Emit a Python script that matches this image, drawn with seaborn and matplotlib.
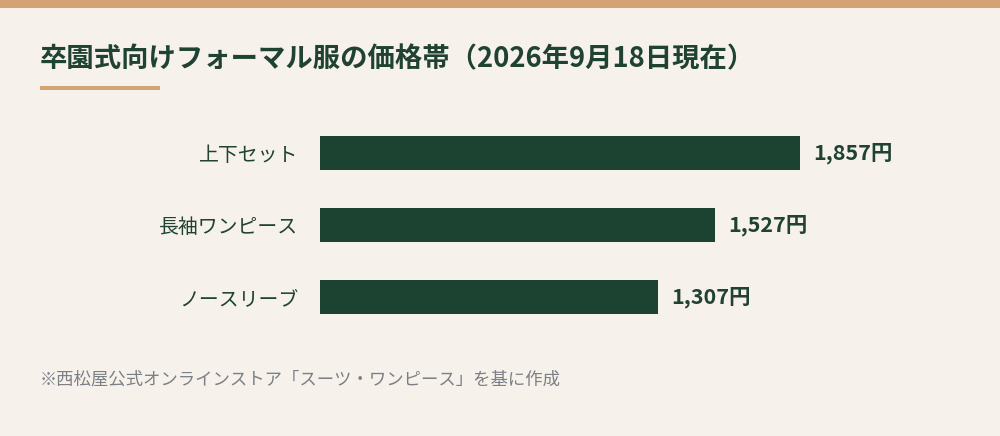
import matplotlib
matplotlib.use("Agg")
import matplotlib.pyplot as plt
import seaborn as sns
import pandas as pd
from matplotlib.patches import Rectangle

categories = ["上下セット", "長袖ワンピース", "ノースリーブ"]
prices = [1857, 1527, 1307]
title = "卒園式向けフォーマル服の価格帯（2026年9月18日現在）"
note = "※西松屋公式オンラインストア「スーツ・ワンピース」を基に作成"

BG = "#f6f1ea"
ACCENT = "#d4a373"
GREEN = "#1c4331"
TEXT = "#1f4232"
GRAY = "#7b7f86"

sns.set_theme(style="white")
plt.rcParams['font.family'] = ['Noto Sans CJK JP', 'DejaVu Sans']

W, H = 1000, 436
fig = plt.figure(figsize=(W / 100, H / 100), dpi=100, facecolor=BG)

def fx(px):
    return px / W

def fy(py):
    return 1 - py / H

# top accent bar
fig.patches.append(Rectangle((0, fy(8)), 1, 8 / H, transform=fig.transFigure,
                             facecolor=ACCENT, edgecolor="none"))
# title
fig.text(fx(40), fy(59), title, fontsize=19.7, fontweight="bold", color=TEXT,
         va="center", ha="left")
# underline
fig.patches.append(Rectangle((fx(40), fy(90)), 120 / W, 4 / H, transform=fig.transFigure,
                             facecolor=ACCENT, edgecolor="none"))
# footnote
fig.text(fx(40), fy(379), note, fontsize=12.5, color=GRAY, va="center", ha="left")

# axes
ax_left, ax_top, ax_bottom, ax_right = 320, 117, 333, 900
ax = fig.add_axes([fx(ax_left), fy(ax_bottom), (ax_right - ax_left) / W, (ax_bottom - ax_top) / H])
ax.set_facecolor(BG)

df = pd.DataFrame({"category": categories, "price": prices})
sns.barplot(data=df, x="price", y="category", ax=ax, color=GREEN, width=0.472,
            saturation=1, orient="h", linewidth=0, edgecolor="none")

scale = 480 / 1857  # px per yen
ax.set_xlim(0, (ax_right - ax_left) / scale)
ax.set_ylim(2.5, -0.5)
for c in ax.containers:
    ax.bar_label(c, labels=[f"{v:,}円" for v in prices], padding=9.4,
                 fontsize=15.5, color=TEXT, fontweight="bold")

ax.set_xlabel("")
ax.set_ylabel("")
ax.set_xticks([])
ax.tick_params(axis="y", length=0, pad=15.8, labelsize=14.3, labelcolor=TEXT)
for s in ax.spines.values():
    s.set_visible(False)

fig.savefig("out.png", dpi=100, facecolor=BG)
